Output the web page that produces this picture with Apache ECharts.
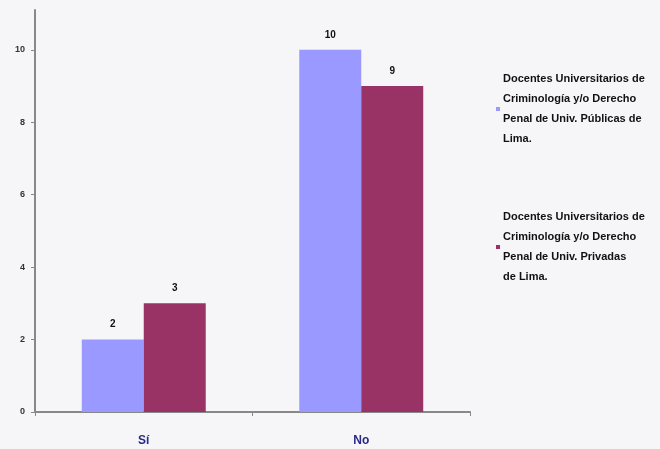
<!DOCTYPE html>
<html><head><meta charset="utf-8">
<script src="https://cdn.jsdelivr.net/npm/echarts@6/dist/echarts.min.js"></script>
<style>html,body{margin:0;padding:0;background:#fff}#c{width:660px;height:449px}</style>
</head><body><div id="c"></div>
<script>
const categories = ['Sí', 'No'];
const seriesNames = [
  'Docentes Universitarios de\nCriminología y/o Derecho\nPenal de Univ. Públicas de\nLima.',
  'Docentes Universitarios de\nCriminología y/o Derecho\nPenal de Univ. Privadas\nde Lima.'
];
const publicas = [2, 10];
const privadas = [3, 9];
const yTicks = [0, 2, 4, 6, 8, 10];

const chart = echarts.init(document.getElementById('c'));
chart.setOption({
  backgroundColor: '#f6f6f8',
  animation: false,
  grid: { left: 35, right: 190, top: 10, bottom: 37 },
  legend: {
    orient: 'vertical', left: 491, top: 64, itemGap: 58,
    itemWidth: 4, itemHeight: 4, icon: 'rect',
    textStyle: { fontFamily: 'Liberation Sans', fontWeight: 'bold', fontSize: 11, lineHeight: 20, color: '#111', padding: [0,0,0,-2] },
    data: seriesNames
  },
  xAxis: {
    type: 'category', data: categories,
    axisLine: { lineStyle: { color: '#888', width: 2 } },
    axisTick: { show: true, alignWithLabel: false, length: 4, lineStyle: { color: '#888' } },
    axisLabel: { margin: 23, fontFamily: 'Liberation Sans', fontWeight: 'bold', fontSize: 12, color: '#2a2a8a' }
  },
  yAxis: {
    type: 'value', min: 0, max: 11.1, interval: 2,
    splitLine: { show: false },
    axisLine: { show: true, lineStyle: { color: '#888', width: 2 } },
    axisTick: { show: true, length: 4, lineStyle: { color: '#888' } },
    axisLabel: { showMaxLabel: false, margin: 10, fontFamily: 'Liberation Sans', fontWeight: 'bold', fontSize: 9, color: '#333',
      formatter: v => yTicks.includes(v) ? String(v) : '' }
  },
  series: [
    { name: seriesNames[0], type: 'bar', data: publicas, barGap: '0%', barCategoryGap: '43%',
      itemStyle: { color: '#9999ff' },
      label: { show: true, position: 'top', distance: 10, fontFamily: 'Liberation Sans', fontWeight: 'bold', fontSize: 10, color: '#111' } },
    { name: seriesNames[1], type: 'bar', data: privadas,
      itemStyle: { color: '#993366' },
      label: { show: true, position: 'top', distance: 10, fontFamily: 'Liberation Sans', fontWeight: 'bold', fontSize: 10, color: '#111' } }
  ]
});
</script></body></html>
